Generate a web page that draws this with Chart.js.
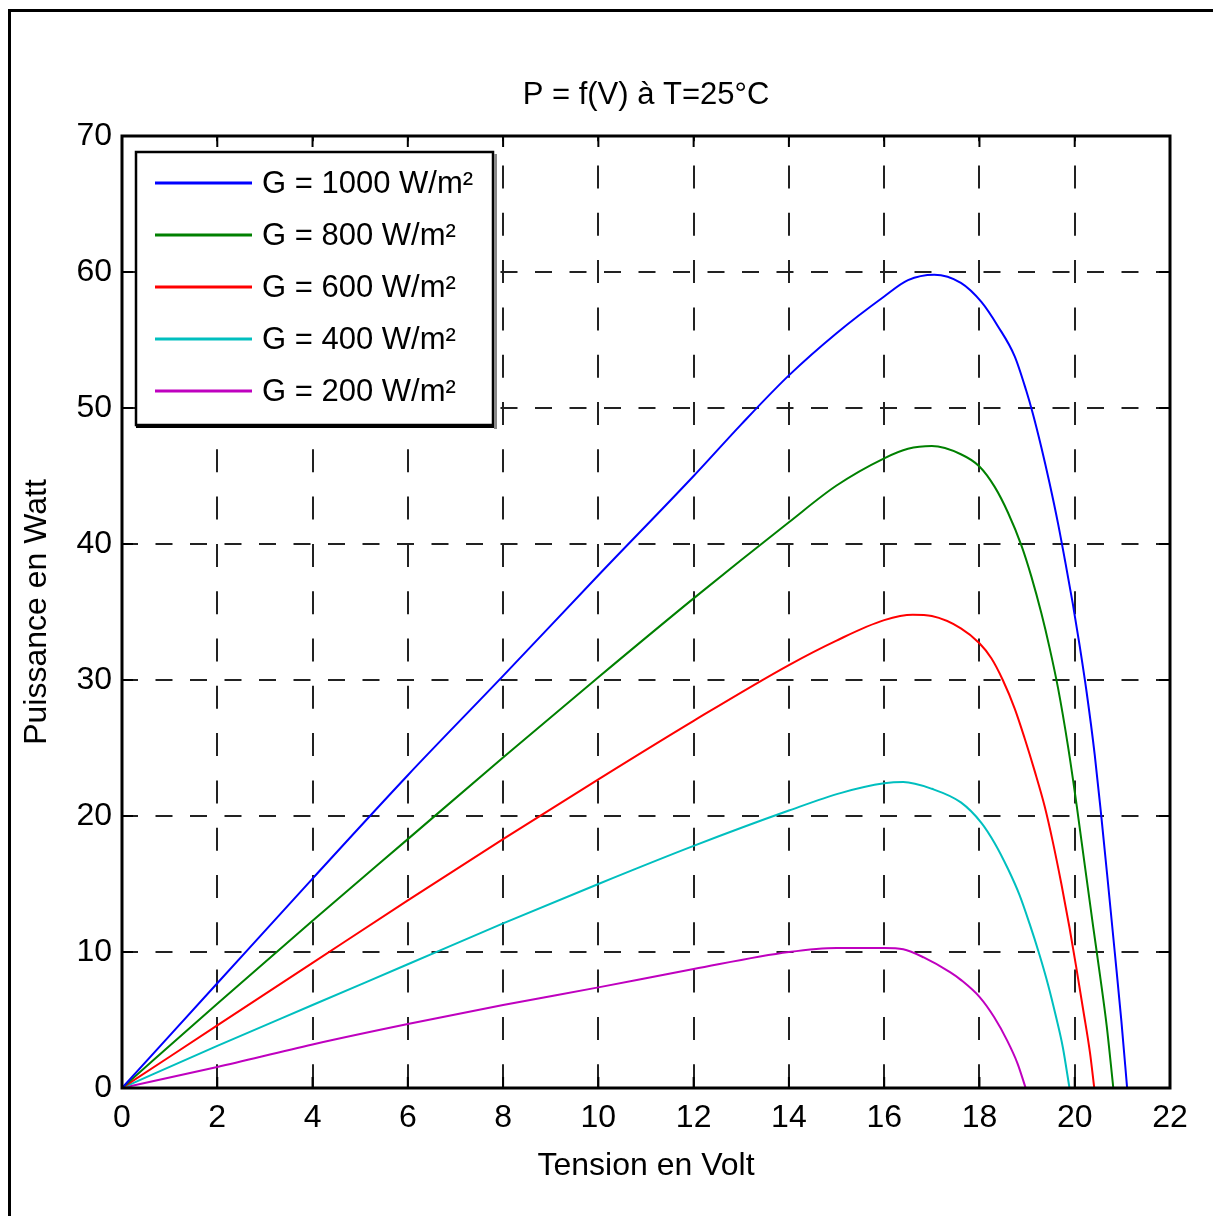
<!DOCTYPE html>
<html lang="fr">
<head>
<meta charset="UTF-8">
<title>P = f(V) à T=25°C</title>
<script src="https://cdn.jsdelivr.net/npm/chart.js"></script>
<style>
    html, body { margin: 0; padding: 0; overflow: hidden; background: #fff; }
    #frame { position: absolute; left: 8px; top: 9px; width: 1205px; height: 1207px;
             border-left: 3px solid #000; border-top: 3px solid #000; box-sizing: border-box; }
    #wrap { position: absolute; left: 0; top: 0; width: 1213px; height: 1216px; }
</style>
</head>
<body>
<div id="frame"></div>
<div id="wrap"><canvas id="pv" width="1213" height="1216"></canvas></div>

<script>
    // values (tension en V, puissance en W)
    const v1000 = [0, 2, 4, 6, 8, 10, 12, 13, 14, 15, 16, 16.5, 17.05, 17.61, 18.04, 18.39, 18.74, 18.98, 19.12, 19.3, 19.47, 19.65, 19.79, 19.96, 20.1, 20.25, 20.42, 20.56, 20.7, 20.84, 20.98, 21.1];
    const p1000 = [0, 7.7, 15.4, 23.0, 30.3, 37.7, 45.0, 48.8, 52.4, 55.5, 58.2, 59.4, 59.8, 59.2, 57.8, 56.0, 53.8, 51.3, 49.6, 47.1, 44.5, 41.5, 38.9, 35.6, 32.6, 29.1, 24.5, 19.9, 15.0, 10.0, 4.9, 0];

    const v800 = [0, 2, 4, 6, 8, 10, 12, 14, 15, 16, 16.5, 17.0, 17.61, 18, 18.32, 18.6, 18.88, 19.09, 19.3, 19.47, 19.65, 19.86, 20.04, 20.21, 20.39, 20.53, 20.67, 20.81];
    const p800 = [0, 6.2, 12.3, 18.3, 24.3, 30.2, 36.0, 41.6, 44.3, 46.3, 47.0, 47.2, 46.6, 45.7, 44.2, 42.3, 39.9, 37.6, 34.9, 32.4, 29.4, 25.1, 20.8, 16.4, 11.8, 8.3, 4.6, 0];

    const v600 = [0, 2, 4, 6, 8, 10, 12, 14, 15, 16, 16.6, 17.0, 17.61, 18, 18.25, 18.49, 18.74, 18.95, 19.16, 19.37, 19.54, 19.72, 19.89, 20.04, 20.18, 20.32, 20.41];
    const p600 = [0, 4.6, 9.2, 13.8, 18.3, 22.7, 27.0, 31.1, 32.9, 34.4, 34.8, 34.7, 33.8, 32.7, 31.6, 30.0, 27.9, 25.7, 23.3, 20.7, 18.1, 15.0, 11.8, 8.7, 5.7, 2.6, 0];

    const v400 = [0, 2, 4, 6, 8, 10, 12, 14, 15.1, 16, 16.4, 17.0, 17.61, 18.04, 18.32, 18.6, 18.84, 19.05, 19.26, 19.44, 19.61, 19.75, 19.89];
    const p400 = [0, 3.1, 6.1, 9.1, 12.1, 15.0, 17.8, 20.4, 21.7, 22.4, 22.5, 22.0, 21.0, 19.5, 18.0, 16.1, 14.2, 12.1, 9.8, 7.6, 5.2, 3.0, 0];

    const v200 = [0, 2, 4, 6, 8, 10, 12, 14, 15, 16, 16.4, 16.83, 17.39, 17.61, 18, 18.31, 18.58, 18.8, 18.97];
    const p200 = [0, 1.55, 3.2, 4.7, 6.1, 7.4, 8.75, 10.0, 10.3, 10.3, 10.2, 9.6, 8.5, 7.95, 6.7, 5.2, 3.5, 1.8, 0];

    const seriesLabels = ['G = 1000 W/m²', 'G = 800 W/m²', 'G = 600 W/m²', 'G = 400 W/m²', 'G = 200 W/m²'];
    const seriesV = [v1000, v800, v600, v400, v200];
    const seriesP = [p1000, p800, p600, p400, p200];
    const seriesColors = ['#0000ff', '#008000', '#ff0000', '#00bfbf', '#bf00bf'];

    const titleText = 'P = f(V) à T=25°C';
    const xTitle = 'Tension en Volt';
    const yTitle = 'Puissance en Watt';

    const family = "'Liberation Sans', Arial, sans-serif";
    const tickLen = 11;

    const datasets = seriesLabels.map((lab, i) => ({
        label: lab,
        data: seriesV[i].map((v, j) => ({x: v, y: seriesP[i][j]})),
        borderColor: seriesColors[i],
        backgroundColor: seriesColors[i],
        borderWidth: 2,
        pointRadius: 0,
        fill: false,
        cubicInterpolationMode: 'monotone'
    }));

    // inward ticks, axes box and the boxed legend, matlab style
    const matlabLook = {
        id: 'matlabLook',
        afterDraw(chart) {
            const {ctx, chartArea: a, scales} = chart;
            ctx.save();
            ctx.strokeStyle = '#000';
            ctx.lineWidth = 2;
            ctx.beginPath();
            scales.x.ticks.forEach(t => {
                const px = scales.x.getPixelForValue(t.value);
                ctx.moveTo(px, a.bottom); ctx.lineTo(px, a.bottom - tickLen);
                ctx.moveTo(px, a.top); ctx.lineTo(px, a.top + tickLen);
            });
            scales.y.ticks.forEach(t => {
                const py = scales.y.getPixelForValue(t.value);
                ctx.moveTo(a.left, py); ctx.lineTo(a.left + tickLen, py);
                ctx.moveTo(a.right, py); ctx.lineTo(a.right - tickLen, py);
            });
            ctx.stroke();

            ctx.lineWidth = 3;
            ctx.strokeRect(a.left, a.top, a.right - a.left, a.bottom - a.top);

            // legend
            const bx = a.left + 14, by = a.top + 16, bw = 357, bh = 273;
            ctx.fillStyle = '#fff';
            ctx.fillRect(bx, by, bw, bh);
            ctx.lineWidth = 2.5;
            ctx.strokeRect(bx, by, bw, bh);
            ctx.fillStyle = '#000';
            ctx.fillRect(bx, by + bh - 1, bw + 2, 4);
            ctx.fillStyle = '#888';
            ctx.fillRect(bx + bw + 1, by + 2, 3, bh + 2);

            ctx.font = '31px ' + family;
            ctx.textBaseline = 'middle';
            ctx.textAlign = 'left';
            chart.data.datasets.forEach((ds, i) => {
                const ly = by + 31 + i * 52;
                ctx.strokeStyle = ds.borderColor;
                ctx.lineWidth = 3;
                ctx.beginPath();
                ctx.moveTo(bx + 19, ly);
                ctx.lineTo(bx + 116, ly);
                ctx.stroke();
                ctx.fillStyle = '#000';
                ctx.fillText(ds.label, bx + 126, ly + 1);
            });
            ctx.restore();
        }
    };

    new Chart(document.getElementById('pv'), {
        type: 'line',
        data: {datasets: datasets},
        plugins: [matlabLook],
        options: {
            responsive: false,
            animation: false,
            devicePixelRatio: 1,
            layout: {padding: {left: 0, right: 43, top: 0, bottom: 0}},
            plugins: {
                legend: {display: false},
                tooltip: {enabled: false},
                title: {
                    display: true,
                    fullSize: false,
                    text: titleText,
                    color: '#000',
                    font: {family: family, size: 31, weight: 'normal', lineHeight: 1.2},
                    padding: {top: 77, bottom: 21.8}
                }
            },
            scales: {
                x: {
                    type: 'linear',
                    min: 0,
                    max: 22,
                    afterFit: s => { s.height = 128; },
                    ticks: {stepSize: 2, color: '#000', padding: 11, maxRotation: 0,
                            font: {family: family, size: 32}},
                    grid: {color: '#222', lineWidth: 2, drawTicks: false},
                    border: {display: false, dash: [23, 24.3], dashOffset: 17.8},
                    title: {display: true, text: xTitle, color: '#000',
                            font: {family: family, size: 32, lineHeight: 1.2},
                            padding: {top: 0, bottom: 31}}
                },
                y: {
                    min: 0,
                    max: 70,
                    afterFit: s => { s.width = 122; },
                    ticks: {stepSize: 10, color: '#000', padding: 10,
                            font: {family: family, size: 32}},
                    grid: {color: '#222', lineWidth: 2, drawTicks: false},
                    border: {display: false, dash: [17, 17.5], dashOffset: 1},
                    title: {display: true, text: yTitle, color: '#000',
                            font: {family: family, size: 32, lineHeight: 1.2},
                            padding: {top: 18, bottom: 0}}
                }
            }
        }
    });
</script>
</body>
</html>
